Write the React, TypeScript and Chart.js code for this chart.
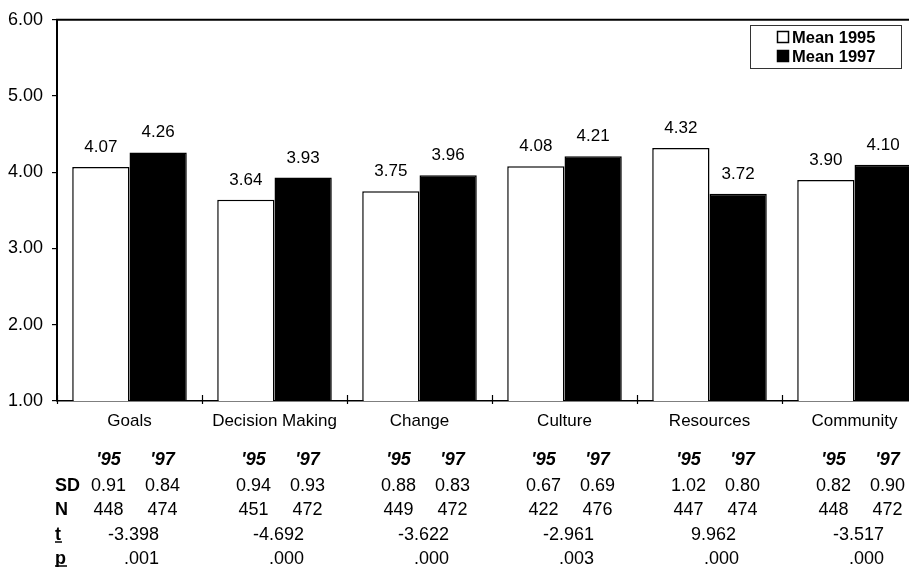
import React, { useEffect, useRef } from "react";
import { Chart, registerables } from "chart.js";

Chart.register(...registerables);

const categories = ["Goals", "Decision Making", "Change", "Culture", "Resources", "Community"];
const mean1995 = [4.07, 3.64, 3.75, 4.08, 4.32, 3.9];
const mean1997 = [4.26, 3.93, 3.96, 4.21, 3.72, 4.1];
const seriesLabels = ["Mean 1995", "Mean 1997"];
const yearHeaders = ["'95", "'97"];
const sd1995 = ["0.91", "0.94", "0.88", "0.67", "1.02", "0.82"];
const sd1997 = ["0.84", "0.93", "0.83", "0.69", "0.80", "0.90"];
const n1995 = ["448", "451", "449", "422", "447", "448"];
const n1997 = ["474", "472", "472", "476", "474", "472"];
const tValues = ["-3.398", "-4.692", "-3.622", "-2.961", "9.962", "-3.517"];
const pValues = [".001", ".000", ".000", ".003", ".000", ".000"];
const rowLabels = ["SD", "N", "t", "p"];

const FONT = '"Liberation Sans", Arial, sans-serif';

const extrasPlugin = {
  id: "extras",
  afterDraw(chart: any) {
    const ctx = chart.ctx as CanvasRenderingContext2D;
    const area = chart.chartArea;
    const xs = chart.scales.x;
    ctx.save();
    // top frame line
    ctx.strokeStyle = "#000";
    ctx.lineWidth = 2;
    ctx.beginPath();
    ctx.moveTo(area.left - 1, area.top);
    ctx.lineTo(area.right, area.top);
    ctx.stroke();

    // x-axis crossing tick marks at category boundaries
    const cw = xs.getPixelForValue(1) - xs.getPixelForValue(0);
    ctx.lineWidth = 1.2;
    for (let i = 0; i <= categories.length; i++) {
      const bx = Math.round(xs.getPixelForValue(0) - cw / 2 + i * cw) + 0.5;
      ctx.beginPath();
      ctx.moveTo(bx, area.bottom - 6);
      ctx.lineTo(bx, area.bottom + 3);
      ctx.stroke();
    }

    // value labels
    ctx.fillStyle = "#000";
    ctx.font = `17px ${FONT}`;
    ctx.textAlign = "center";
    ctx.textBaseline = "alphabetic";
    chart.data.datasets.forEach((ds: any, di: number) => {
      const meta = chart.getDatasetMeta(di);
      meta.data.forEach((el: any, i: number) => {
        ctx.fillText((ds.data[i] as number).toFixed(2), el.x, el.y - 15);
      });
    });

    // legend
    const lx = 750.5, ly = 25.5, lw = 151, lh = 43;
    ctx.lineWidth = 1;
    ctx.strokeStyle = "#333";
    ctx.strokeRect(lx, ly, lw, lh);
    ctx.font = `bold 16.5px ${FONT}`;
    ctx.textAlign = "left";
    const rowsY = [43, 62];
    rowsY.forEach((by, k) => {
      ctx.lineWidth = 1.5;
      ctx.strokeStyle = "#000";
      ctx.fillStyle = k === 0 ? "#fff" : "#000";
      ctx.fillRect(777.5, by - 11.5, 11, 11);
      ctx.strokeRect(777.5, by - 11.5, 11, 11);
      ctx.fillStyle = "#000";
      ctx.fillText(seriesLabels[k], 792, by);
    });

    // statistics table
    const rowBase = [465, 491, 515, 540, 564];
    const leftOff = -21, rightOff = 33, tOff = 4, pOff = 12;
    categories.forEach((_, i) => {
      const cx = xs.getPixelForValue(i);
      ctx.textAlign = "center";
      ctx.font = `italic bold 18px ${FONT}`;
      ctx.fillText(yearHeaders[0], cx + leftOff, rowBase[0]);
      ctx.fillText(yearHeaders[1], cx + rightOff, rowBase[0]);
      ctx.font = `18px ${FONT}`;
      ctx.fillText(sd1995[i], cx + leftOff, rowBase[1]);
      ctx.fillText(sd1997[i], cx + rightOff, rowBase[1]);
      ctx.fillText(n1995[i], cx + leftOff, rowBase[2]);
      ctx.fillText(n1997[i], cx + rightOff, rowBase[2]);
      ctx.fillText(tValues[i], cx + tOff, rowBase[3]);
      ctx.fillText(pValues[i], cx + pOff, rowBase[4]);
    });
    ctx.textAlign = "left";
    ctx.font = `bold 18px ${FONT}`;
    rowLabels.forEach((lab, r) => {
      const y = rowBase[r + 1];
      ctx.fillText(lab, 55, y);
      if (lab === "t" || lab === "p") {
        const w = ctx.measureText(lab).width;
        ctx.lineWidth = 1.5;
        ctx.beginPath();
        ctx.moveTo(55, y + 2);
        ctx.lineTo(55 + w + 1, y + 2);
        ctx.stroke();
      }
    });
    ctx.restore();
  },
};

export default function App() {
  const canvasRef = useRef<HTMLCanvasElement | null>(null);

  useEffect(() => {
    const canvas = canvasRef.current;
    if (!canvas) return;
    const chart = new Chart(canvas, {
      type: "bar",
      data: {
        labels: categories,
        datasets: [
          {
            label: seriesLabels[0],
            data: mean1995,
            backgroundColor: "#fff",
            borderColor: "#000",
            borderWidth: 1.5,
            categoryPercentage: 0.79,
            barPercentage: 1,
          },
          {
            label: seriesLabels[1],
            data: mean1997,
            backgroundColor: "#000",
            borderColor: "#000",
            borderWidth: 1.5,
            categoryPercentage: 0.79,
            barPercentage: 1,
          },
        ],
      },
      options: {
        responsive: false,
        animation: false,
        devicePixelRatio: 1,
        layout: { padding: { top: 19, left: 0, right: 13, bottom: 0 } },
        plugins: {
          legend: { display: false },
          tooltip: { enabled: false },
          title: { display: false },
        },
        scales: {
          x: {
            type: "category",
            offset: true,
            grid: { display: true, drawOnChartArea: false, drawTicks: false, offset: true, color: "rgba(0,0,0,0)" },
            border: { display: true, color: "#000", width: 1.5 },
            ticks: {
              color: "#000",
              font: { family: FONT, size: 17 },
              padding: 10,
              maxRotation: 0,
              autoSkip: false,
            },
            afterFit(scale: any) {
              scale.height = 166;
            },
          },
          y: {
            min: 1,
            max: 6,
            grid: { display: true, drawOnChartArea: false, drawTicks: true, tickLength: 5, color: "#000", lineWidth: 1.2 },
            border: { display: true, color: "#000", width: 2 },
            ticks: {
              stepSize: 1,
              color: "#000",
              font: { family: FONT, size: 18 },
              padding: 9,
              callback: (v: any) => Number(v).toFixed(2),
            },
            afterFit(scale: any) {
              scale.width = 57;
            },
          },
        },
      },
      plugins: [extrasPlugin],
    });
    return () => chart.destroy();
  }, []);

  return (
    <div
      style={{
        position: "fixed",
        left: 0,
        top: 0,
        width: 909,
        height: 567,
        overflow: "hidden",
        background: "#fff",
      }}
    >
      <canvas ref={canvasRef} width={940} height={567} style={{ display: "block" }} />
    </div>
  );
}
